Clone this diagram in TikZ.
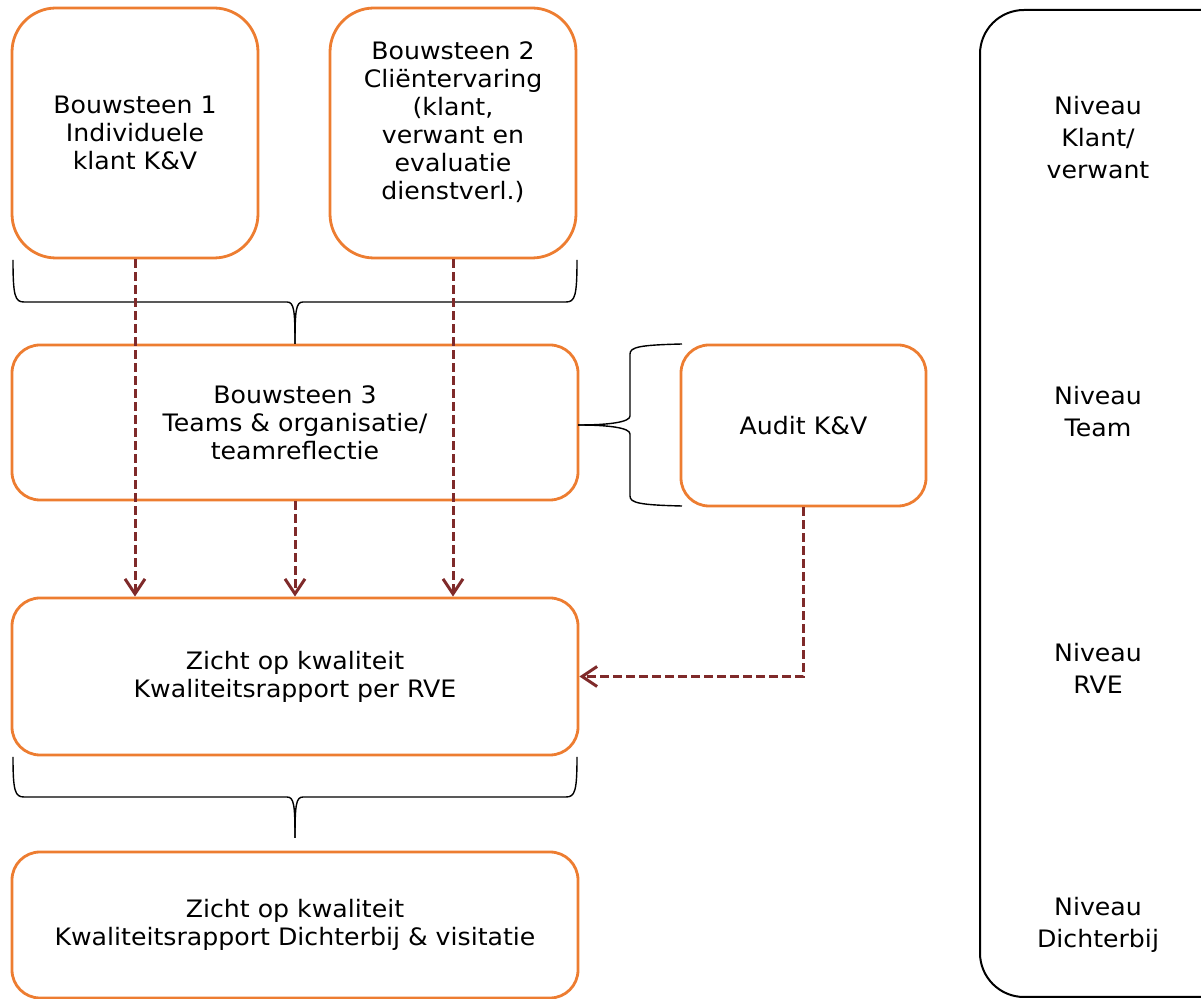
\documentclass[tikz,border=0pt]{standalone}
\usepackage{fontspec}
\setmainfont[FakeStretch=1.05]{DejaVu Sans}
\usetikzlibrary{arrows.meta}
\definecolor{bsorange}{HTML}{ED7D31}
\definecolor{pijlrood}{HTML}{7F2A2A}
\tikzset{
  blok/.style={draw=bsorange,line width=1.4pt,rounded corners=14pt,align=center,inner sep=0pt},
  pijl/.style={draw=pijlrood,line width=1.5pt,dash pattern=on 4.5pt off 2pt,-{Straight Barb[length=7.5pt,width=10pt]}},
  accolade/.style={draw=black,line width=0.7pt},
  niveau/.style={align=center,font=\fontsize{12}{16}\selectfont}
}
\begin{document}
\begin{tikzpicture}[x=0.5pt,y=-0.5pt,font=\fontsize{12}{14}\selectfont]
\useasboundingbox (0,0) rectangle (1201,999);
% bouwstenen
\node[blok,rounded corners=22pt,minimum width=123pt,minimum height=125pt] (b1) at (135,133) {Bouwsteen 1\\Individuele\\klant K\&V};
\node[blok,rounded corners=22pt,minimum width=123pt,minimum height=125pt] (b2) at (453,133) {Bouwsteen 2\\Cliëntervaring\\(klant,\\verwant en\\evaluatie\\dienstverl.)\\[-2pt]\mbox{}};
\node[blok,minimum width=283pt,minimum height=77.5pt] (b3) at (295,422.5) {Bouwsteen 3\\Teams \& organisatie/\\teamreflectie};
\node[blok,minimum width=122.5pt,minimum height=80.5pt] (audit) at (803.5,425.5) {Audit K\&V};
\node[blok,minimum width=283pt,minimum height=78.5pt] (zicht) at (295,676.5) {Zicht op kwaliteit\\Kwaliteitsrapport per RVE};
\node[blok,minimum width=283pt,minimum height=73pt] (dichterbij) at (295,925) {Zicht op kwaliteit\\Kwaliteitsrapport Dichterbij \& visitatie};
% niveaus
\draw[line width=1pt,rounded corners=22pt] (980,10) rectangle (1260,997);
\node[niveau] (nklant) at (1098,138) {Niveau\\Klant/\\verwant};
\node[niveau] (nteam) at (1098,412) {Niveau\\Team};
\node[niveau] (nrve) at (1098,668) {Niveau\\RVE};
\node[niveau] (ndichterbij) at (1098,925) {Niveau\\Dichterbij};
% accolades
\draw[accolade] (13,260) .. controls (13,296) and (15,302) .. (24,302) -- (287,302) .. controls (294,302) and (295,310) .. (295,344);
\draw[accolade] (577,260) .. controls (577,296) and (575,302) .. (566,302) -- (303,302) .. controls (296,302) and (295,310) .. (295,344);
\draw[accolade] (13,757) .. controls (13,791) and (15,797) .. (24,797) -- (287,797) .. controls (294,797) and (295,805) .. (295,838);
\draw[accolade] (577,757) .. controls (577,791) and (575,797) .. (566,797) -- (303,797) .. controls (296,797) and (295,805) .. (295,838);
\draw[accolade] (682,344) .. controls (640,345) and (630,347) .. (630,354) -- (630,416) .. controls (630,422) and (610,425) .. (578,425);
\draw[accolade] (682,506) .. controls (640,505) and (630,503) .. (630,496) -- (630,434) .. controls (630,428) and (610,425) .. (578,425);
% pijlen
\draw[pijl] (b1.south) -- (b1.south |- zicht.north);
\draw[pijl] (b3.south) -- (zicht.north);
\draw[pijl] (b2.south) -- (b2.south |- zicht.north);
\draw[pijl] (audit.south) |- (zicht.east);
\end{tikzpicture}
\end{document}
